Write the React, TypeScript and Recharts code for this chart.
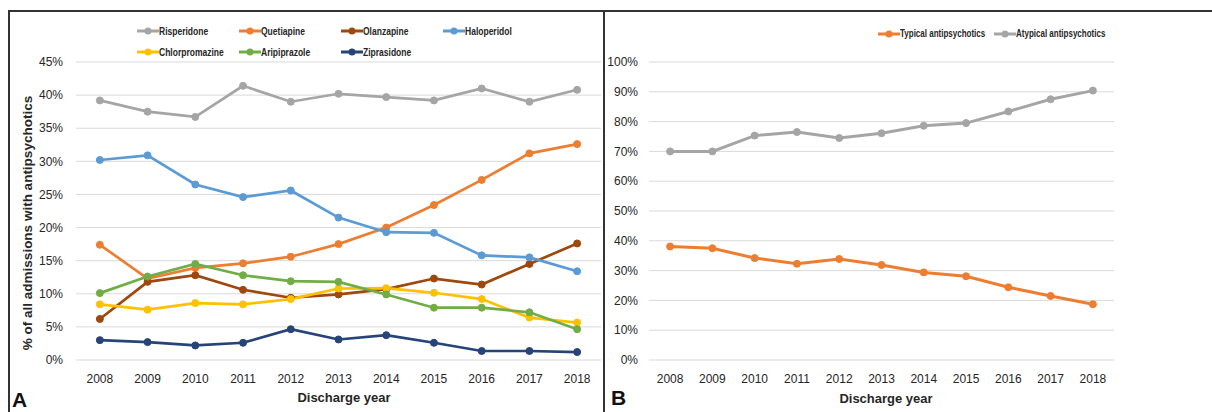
import { CartesianGrid, Label, Line, LineChart, XAxis, YAxis } from 'recharts';

const years = ['2008', '2009', '2010', '2011', '2012', '2013', '2014', '2015', '2016', '2017', '2018'];

// panel A: % of admissions per drug
const risperidone = [39.2, 37.5, 36.7, 41.4, 39.0, 40.2, 39.7, 39.2, 41.0, 39.0, 40.8];
const quetiapine = [17.4, 12.3, 13.9, 14.6, 15.6, 17.5, 20.0, 23.4, 27.2, 31.2, 32.6];
const olanzapine = [6.2, 11.8, 12.8, 10.6, 9.4, 9.9, 10.7, 12.3, 11.4, 14.5, 17.6];
const haloperidol = [30.2, 30.9, 26.5, 24.6, 25.6, 21.5, 19.3, 19.2, 15.8, 15.5, 13.4];
const chlorpromazine = [8.4, 7.6, 8.6, 8.4, 9.2, 10.8, 10.85, 10.15, 9.2, 6.4, 5.65];
const aripiprazole = [10.1, 12.6, 14.5, 12.8, 11.9, 11.8, 9.9, 7.9, 7.9, 7.2, 4.65];
const ziprasidone = [3.0, 2.7, 2.2, 2.6, 4.65, 3.1, 3.75, 2.6, 1.36, 1.36, 1.2];

// panel B: typical vs atypical
const typical = [38.1, 37.5, 34.2, 32.3, 33.9, 31.9, 29.4, 28.1, 24.4, 21.5, 18.7];
const atypical = [70.0, 70.0, 75.3, 76.5, 74.5, 76.1, 78.6, 79.5, 83.4, 87.5, 90.4];

const leftTicks = [0, 5, 10, 15, 20, 25, 30, 35, 40, 45];
const rightTicks = [0, 10, 20, 30, 40, 50, 60, 70, 80, 90, 100];

const drugSeries = [
  { key: 'risperidone', name: 'Risperidone', color: '#a5a5a5', values: risperidone },
  { key: 'quetiapine', name: 'Quetiapine', color: '#ed7d31', values: quetiapine },
  { key: 'olanzapine', name: 'Olanzapine', color: '#9e480e', values: olanzapine },
  { key: 'haloperidol', name: 'Haloperidol', color: '#5b9bd5', values: haloperidol },
  { key: 'chlorpromazine', name: 'Chlorpromazine', color: '#ffc000', values: chlorpromazine },
  { key: 'aripiprazole', name: 'Aripiprazole', color: '#70ad47', values: aripiprazole },
  { key: 'ziprasidone', name: 'Ziprasidone', color: '#264478', values: ziprasidone },
];

const classSeries = [
  { key: 'typical', name: 'Typical antipsychotics', color: '#ed7d31', values: typical },
  { key: 'atypical', name: 'Atypical antipsychotics', color: '#a5a5a5', values: atypical },
];

const leftData = years.map((year, i) => {
  const row: Record<string, string | number> = { year };
  drugSeries.forEach((s) => (row[s.key] = s.values[i]));
  return row;
});

const rightData = years.map((year, i) => {
  const row: Record<string, string | number> = { year };
  classSeries.forEach((s) => (row[s.key] = s.values[i]));
  return row;
});

const FONT = '"Liberation Sans", Arial, sans-serif';
const TEXT = '#262626';
const GRID = '#d9d9d9';

const tickStyle = { fontSize: 12, fill: TEXT, fontFamily: FONT };
const pct = (v: number) => `${v}%`;

// legend text in the source is a condensed bold face; squeeze Liberation Sans to match
function LegendItem({ color, label, width, fontSize, squeeze }: { color: string; label: string; width: number; fontSize: number; squeeze: number }) {
  return (
    <div style={{ display: 'flex', alignItems: 'center', width, flexShrink: 0 }}>
      <svg width={22} height={10} style={{ display: 'block', flexShrink: 0 }}>
        <line x1={0} y1={5} x2={22} y2={5} stroke={color} strokeWidth={3} />
        <circle cx={11} cy={5} r={3.5} fill={color} />
      </svg>
      <span
        style={{
          fontFamily: FONT,
          fontWeight: 700,
          fontSize,
          color: TEXT,
          whiteSpace: 'nowrap',
          display: 'inline-block',
          transform: `scaleX(${squeeze})`,
          transformOrigin: 'left center',
        }}
      >
        {label}
      </span>
    </div>
  );
}

export default function App() {
  return (
    <div style={{ position: 'absolute', left: 0, top: 0, width: 1212, height: 412, background: '#fff', overflow: 'hidden' }}>
      {/* frame */}
      <div style={{ position: 'absolute', left: 9, top: 10, right: 0, height: 2, background: '#333' }} />
      <div style={{ position: 'absolute', left: 8, top: 10, width: 2, bottom: 0, background: '#333' }} />
      <div style={{ position: 'absolute', left: 603, top: 10, width: 2, bottom: 0, background: '#333' }} />

      {/* panel A */}
      <div style={{ position: 'absolute', left: 0, top: 0 }}>
        <LineChart width={604} height={412} data={leftData} margin={{ top: 62, right: 3, bottom: 22, left: 16 }}>
          <CartesianGrid vertical={false} stroke={GRID} />
          <XAxis
            dataKey="year"
            axisLine={false}
            tickLine={false}
            tickSize={6}
            tickMargin={8}
            height={30}
            padding={{ left: 23.85, right: 23.85 }}
            tick={tickStyle}
            interval={0}
          >
            <Label
              value="Discharge year"
              position="bottom"
              offset={3}
              dx={5.5}
              style={{ fontSize: 13, fontWeight: 700, fill: TEXT, fontFamily: FONT }}
            />
          </XAxis>
          <YAxis
            domain={[0, 45]}
            ticks={leftTicks}
            tickFormatter={pct}
            axisLine={false}
            tickLine={false}
            tickSize={6}
            tickMargin={7}
            width={60}
            tick={tickStyle}
          >
            <Label
              value="% of all admissions with antipsychotics"
              angle={-90}
              position="center"
              dx={-19}
              dy={12}
              style={{ fontSize: 13.5, fontWeight: 700, fill: TEXT, fontFamily: FONT }}
            />
          </YAxis>
          {drugSeries.map((s) => (
            <Line
              key={s.key}
              dataKey={s.key}
              name={s.name}
              stroke={s.color}
              strokeWidth={2.7}
              dot={{ r: 3.5, fill: s.color, stroke: s.color, strokeWidth: 1 }}
              isAnimationActive={false}
            />
          ))}
        </LineChart>
      </div>

      {/* legend A */}
      <div style={{ position: 'absolute', left: 137, top: 25, width: 420, display: 'flex', flexWrap: 'wrap', rowGap: 9 }}>
        {drugSeries.map((s) => (
          <LegendItem key={s.key} color={s.color} label={s.name} width={102} fontSize={11.5} squeeze={0.74} />
        ))}
      </div>

      {/* panel B */}
      <div style={{ position: 'absolute', left: 604, top: 0 }}>
        <LineChart width={608} height={412} data={rightData} margin={{ top: 62, right: 98, bottom: 22, left: 5 }}>
          <CartesianGrid vertical={false} stroke={GRID} />
          <XAxis
            dataKey="year"
            axisLine={false}
            tickLine={false}
            tickSize={6}
            tickMargin={8}
            height={30}
            padding={{ left: 21.1, right: 21.1 }}
            tick={tickStyle}
            interval={0}
          >
            <Label
              value="Discharge year"
              position="bottom"
              offset={4}
              dx={4.5}
              style={{ fontSize: 13, fontWeight: 700, fill: TEXT, fontFamily: FONT }}
            />
          </XAxis>
          <YAxis
            domain={[0, 100]}
            ticks={rightTicks}
            tickFormatter={pct}
            axisLine={false}
            tickLine={false}
            tickSize={6}
            tickMargin={5}
            width={40}
            tick={tickStyle}
          />
          {classSeries.map((s) => (
            <Line
              key={s.key}
              dataKey={s.key}
              name={s.name}
              stroke={s.color}
              strokeWidth={3}
              dot={{ r: 3.5, fill: s.color, stroke: s.color, strokeWidth: 1 }}
              isAnimationActive={false}
            />
          ))}
        </LineChart>
      </div>

      {/* legend B */}
      <div style={{ position: 'absolute', left: 878, top: 28, display: 'flex' }}>
        {classSeries.map((s) => (
          <LegendItem key={s.key} color={s.color} label={s.name} width={116} fontSize={10} squeeze={0.8} />
        ))}
      </div>

      {/* panel letters */}
      <div style={{ position: 'absolute', left: 12, top: 388, fontFamily: FONT, fontWeight: 700, fontSize: 21, color: '#111', lineHeight: '24px' }}>A</div>
      <div style={{ position: 'absolute', left: 611, top: 386, fontFamily: FONT, fontWeight: 700, fontSize: 21, color: '#111', lineHeight: '24px' }}>B</div>
    </div>
  );
}
